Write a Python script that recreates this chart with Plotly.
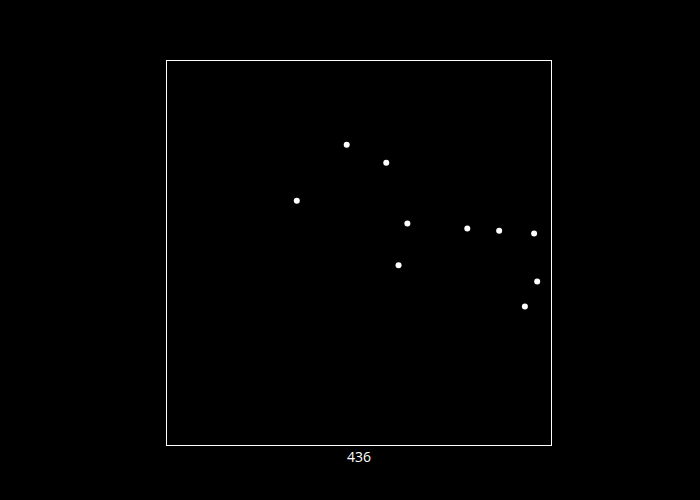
import plotly.graph_objects as go

x_vals = [3.38, 4.68, 5.71, 6.26, 6.03, 7.82, 8.65, 9.56, 9.64, 9.32]
y_vals = [6.36, 7.82, 7.35, 5.77, 4.68, 5.64, 5.58, 5.51, 4.26, 3.61]
x_title = "436"

fig = go.Figure(go.Scatter(
    x=x_vals, y=y_vals, mode="markers",
    marker=dict(color="white", size=6),
))
axis_common = dict(showgrid=False, zeroline=False, showline=True, linecolor="white",
                   linewidth=1, mirror=True, ticks="", showticklabels=False, range=[0, 10])
fig.update_layout(
    width=700, height=500,
    paper_bgcolor="black", plot_bgcolor="black",
    margin=dict(l=167, r=149, t=61, b=55),
    showlegend=False,
    font=dict(color="white", family="Open Sans"),
    xaxis=dict(**axis_common, title=dict(text=x_title, font=dict(size=14, color="white"), standoff=7)),
    yaxis=dict(**axis_common),
)
fig.write_html("out.html", config={"displayModeBar": False},
               post_script="document.body.style.margin='0';document.body.style.background='black';")
